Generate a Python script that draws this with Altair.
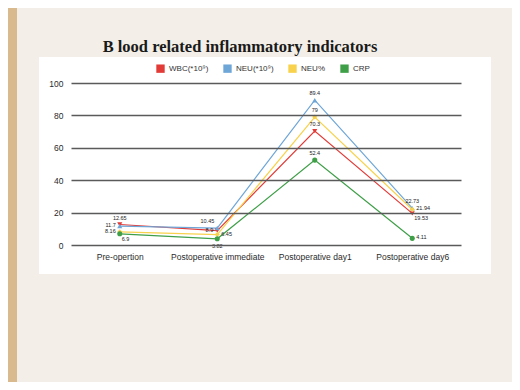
import altair as alt
import pandas as pd

categories = ["Pre-opertion", "Postoperative immediate", "Postoperative day1", "Postoperative day6"]
series = ["WBC(*10⁹)", "NEU(*10⁹)", "NEU%", "CRP"]
wbc = [12.65, 8.9, 70.3, 19.53]
neu = [11.7, 10.45, 89.4, 22.73]
neu_pct = [8.16, 6.45, 79, 21.94]
crp = [6.9, 3.82, 52.4, 4.11]
colors = ["#e23a36", "#6ea6d8", "#f8d24c", "#3f9f48"]
shapes = ["triangle-down", "triangle-up", "diamond", "circle"]
title_text = "B lood  related  inflammatory indicators"

# where each value label sits relative to its point (styling, per series per stage)
label_side = {
    "WBC(*10⁹)": ["above", "left", "above", "belowright"],
    "NEU(*10⁹)": ["left", "aboveleft", "above", "above"],
    "NEU%": ["left", "right", "above", "right"],
    "CRP": ["belowright", "below", "above", "right"],
}

rows = []
for name, vals in zip(series, [wbc, neu, neu_pct, crp]):
    for i, (c, v) in enumerate(zip(categories, vals)):
        rows.append({"stage": c, "series": name, "value": v,
                     "label": f"{v:g}", "side": label_side[name][i]})
df = pd.DataFrame(rows)

W, H = 390, 162

x = alt.X("stage:N", sort=categories, scale=alt.Scale(type="point", padding=0.5),
          axis=alt.Axis(title=None, labelAngle=0, ticks=False, domain=False, grid=False,
                        labelPadding=7, labelFontSize=8.5, labelColor="#2a2a2a",
                        labelFont="Liberation Sans", zindex=1))
y = alt.Y("value:Q", scale=alt.Scale(domain=[0, 100], nice=False),
          axis=alt.Axis(title=None, values=[0, 20, 40, 60, 80, 100], ticks=False, domain=False,
                        grid=True, gridColor="#5a5a5a", gridWidth=1.4, labelPadding=8,
                        labelFontSize=8.5, labelColor="#2a2a2a", labelFont="Liberation Sans",
                        zindex=1))
cscale = alt.Scale(domain=series, range=colors)
legend = alt.Legend(title=None, orient="none", legendX=85, legendY=-19,
                    direction="horizontal", symbolType="square", symbolSize=70,
                    symbolStrokeWidth=0, labelFontSize=8,
                    labelColor="#333", labelFont="Liberation Sans",
                    columnPadding=14, symbolOpacity=1)

blank = alt.Data(values=[{"k": 1}])

panel = alt.Chart(blank).mark_rect(color="#ffffff").encode(
    x=alt.value(-32), x2=alt.value(420), y=alt.value(-26), y2=alt.value(191))
wood = alt.Chart(blank).mark_rect(color="#d9ba8e").encode(
    x=alt.value(-70), x2=alt.value(-54), y=alt.value(-80), y2=alt.value(300))
title = alt.Chart(blank).mark_text(font="Liberation Serif", fontWeight="bold", fontSize=16.5,
                                   color="#1a1a1a", align="center", baseline="middle").encode(
    x=alt.value(169), y=alt.value(-36), text=alt.value(title_text))

# legend carrier: filled squares of zero size, so only the legend shows
legend_layer = alt.Chart(df).mark_square(filled=True, size=0).encode(
    x=x, y=y, color=alt.Color("series:N", sort=series, scale=cscale, legend=legend))

lines = alt.Chart(df).mark_line(strokeWidth=1.2).encode(
    x=x, y=y, color=alt.Color("series:N", sort=series, scale=cscale, legend=None))

point_layers = []
for name, col, shp in zip(series, colors, shapes):
    point_layers.append(
        alt.Chart(df).transform_filter(alt.datum.series == name).mark_point(
            filled=True, size=26, opacity=1, shape=shp, color=col
        ).encode(x=x, y=y))

offsets = {
    "above": dict(dx=0, dy=-7, align="center"),
    "aboveleft": dict(dx=-3, dy=-7, align="right"),
    "left": dict(dx=-4, dy=-1, align="right"),
    "right": dict(dx=4, dy=-1, align="left"),
    "below": dict(dx=0, dy=7, align="center"),
    "belowright": dict(dx=2, dy=5, align="left"),
}
label_layers = []
for side, o in offsets.items():
    label_layers.append(
        alt.Chart(df).transform_filter(alt.datum.side == side).mark_text(
            fontSize=5.5, color="#222", font="Liberation Sans", baseline="middle", **o
        ).encode(x=x, y=y, text="label:N"))

chart = alt.layer(wood, panel, title, legend_layer, lines, *point_layers, *label_layers).properties(
    width=W, height=H, background="#f3efe8",
    padding={"left": 63, "top": 75, "right": 51, "bottom": 137},
    autosize=alt.AutoSizeParams(type="none"),
).configure_view(stroke=None)

chart.save("out.html", embed_options={"renderer": "svg", "actions": False})
